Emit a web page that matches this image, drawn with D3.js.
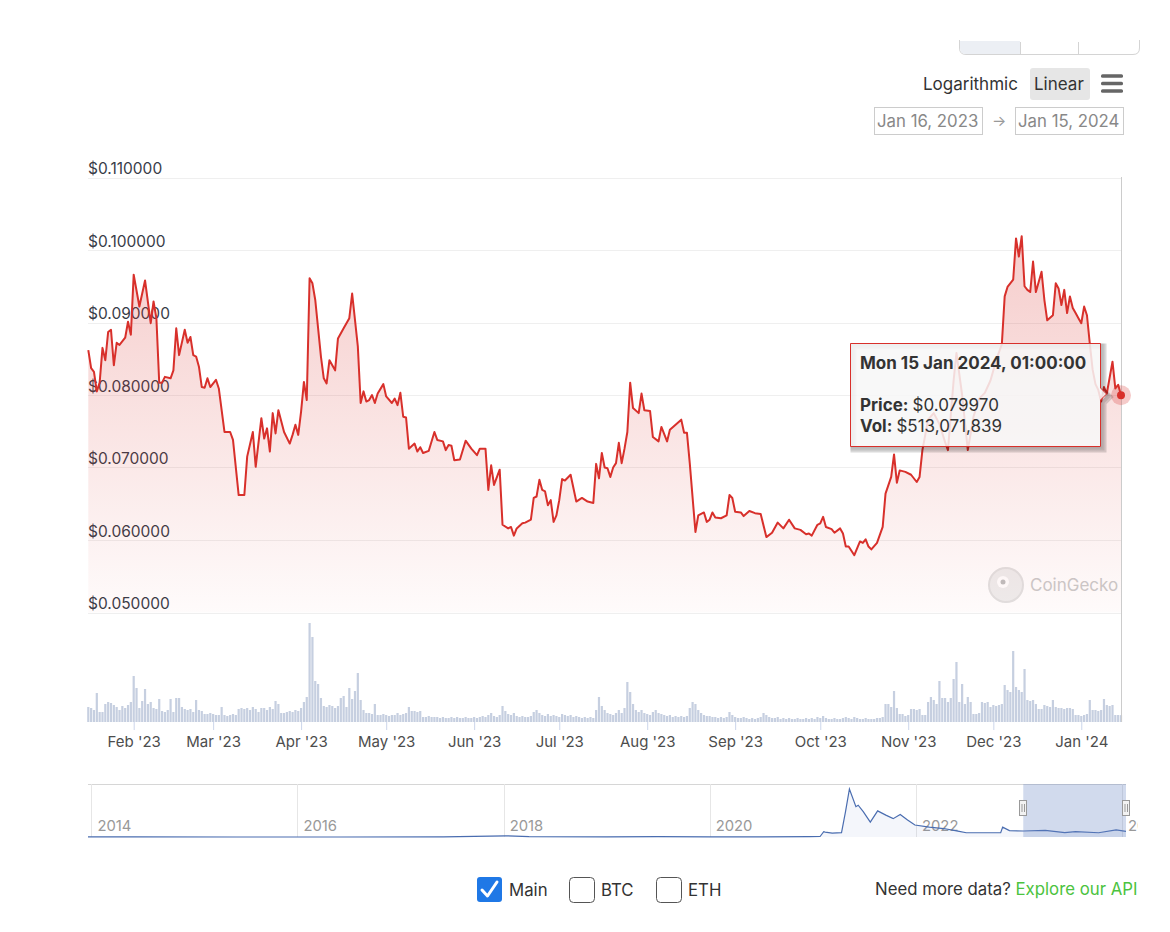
<!DOCTYPE html>
<meta charset="utf-8">
<style>
  body { margin: 0; background: #fff; }
  text { font-family: Inter, "Noto Sans", sans-serif; }
</style>
<svg width="1170" height="932"></svg>
<script src="https://d3js.org/d3.v7.min.js"></script>
<script>
// price points: day counted from 16 Jan 2023, price in USD
var priceDay = [0,1,2,3,4,5,6,7,8,9,10,11,13,14,15,16,18,20,22,23,24,25,26,27,29,30,31,32,34,35,36,37,38,39,40,41,42,43,45,46,48,50,51,53,55,56,58,59,61,62,63,64,65,66,67,69,71,72,73,74,75,76,77,78,79,80,82,83,84,85,87,88,90,92,93,95,96,97,98,99,100,101,102,104,105,107,108,109,110,111,112,113,115,116,117,118,120,122,123,125,126,127,128,129,131,133,135,137,138,140,141,142,143,145,146,148,149,150,151,153,154,156,157,158,159,160,161,162,163,164,165,166,167,168,170,172,174,176,178,179,180,181,182,183,184,185,186,187,188,189,190,191,192,194,195,196,198,199,201,202,204,205,207,209,210,211,212,214,215,217,218,219,220,221,223,225,226,227,228,230,231,233,235,237,239,241,243,245,247,249,251,253,254,255,257,258,259,260,262,263,265,266,267,268,270,272,273,274,275,276,278,280,281,283,284,285,286,288,290,292,293,294,296,298,300,302,303,305,306,308,310,312,314,316,318,320,322,323,324,326,327,328,329,330,331,332,333,334,336,337,338,340,341,342,343,344,345,346,347,348,349,350,351,352,353,354,355,356,357,358,359,361,362,363,364];
var priceValue = [.0862,.0837,.0832,.0805,.0817,.0865,.0848,.0887,.0890,.0841,.0872,.0869,.0879,.0901,.0883,.0966,.0922,.0958,.0899,.0929,.0906,.0817,.0817,.0825,.0823,.0834,.0892,.0855,.0890,.0872,.0880,.0855,.0853,.0839,.0811,.0810,.0823,.0811,.0821,.0809,.0749,.0749,.0738,.0662,.0662,.0715,.0749,.0701,.0768,.0740,.0754,.0722,.0775,.0747,.0779,.0749,.0733,.0745,.0759,.0745,.0777,.0818,.0793,.0961,.0954,.0931,.0853,.0823,.0816,.0848,.0834,.0878,.0892,.0906,.0940,.0867,.0789,.0805,.0791,.0793,.0800,.0789,.0802,.0815,.0798,.0789,.0795,.0786,.0803,.0770,.0769,.0726,.0733,.0722,.0728,.0720,.0723,.0749,.0738,.0736,.0724,.0731,.0730,.0710,.0711,.0737,.0726,.0717,.0726,.0726,.0669,.0703,.0676,.0697,.0621,.0616,.0618,.0606,.0616,.0623,.0624,.0628,.0658,.0660,.0683,.0669,.0667,.0648,.0655,.0625,.0634,.0655,.0684,.0682,.0690,.0653,.0658,.0653,.0651,.0705,.0685,.0720,.0700,.0699,.0687,.0700,.0706,.0734,.0706,.0726,.0749,.0817,.0782,.0775,.0802,.0779,.0778,.0742,.0736,.0756,.0736,.0752,.0759,.0766,.0748,.0748,.0706,.0611,.0634,.0638,.0625,.0628,.0638,.0631,.0630,.0634,.0662,.0658,.0639,.0638,.0633,.0640,.0637,.0636,.0604,.0610,.0624,.0616,.0628,.0616,.0614,.0608,.0609,.0606,.0621,.0623,.0632,.0618,.0615,.0610,.0616,.0609,.0591,.0591,.0579,.0598,.0596,.0601,.0591,.0587,.0596,.0618,.0664,.0687,.0718,.0679,.0696,.0694,.0690,.0680,.0687,.0724,.0766,.0775,.0760,.0735,.0724,.0820,.0858,.0800,.0724,.0770,.0795,.0803,.0820,.0848,.0870,.0936,.0949,.0959,.1016,.0991,.1019,.0950,.0945,.0942,.0984,.0942,.0970,.0931,.0903,.0910,.0954,.0947,.0924,.0945,.0913,.0936,.0920,.0913,.0906,.0899,.0922,.0910,.0871,.0835,.0815,.0807,.0791,.0811,.0802,.0846,.0809,.0814,.07997];

// daily volume in millions USD, one per day from 16 Jan 2023
var volume = [
1125,1050,900,2175,750,750,1350,1500,1425,1275,
1125,900,1200,1050,1275,1500,3450,2550,1050,1575,
2475,1350,1500,1050,975,1725,825,750,900,1725,
750,1800,1800,1125,975,900,975,750,1650,900,
825,600,600,675,600,525,525,1125,525,450,
525,600,525,975,1050,975,1050,900,1125,975,
750,1050,1050,900,1125,975,1575,1350,675,675,
750,825,750,900,825,1050,1500,1875,7425,6375,
3075,2850,1800,1200,1125,1275,1200,1050,1200,1800,
1950,1125,2550,1725,2325,3675,1650,900,675,675,
600,1350,525,525,600,525,450,525,525,675,
525,600,675,1125,825,825,750,825,375,375,
450,375,375,375,300,375,300,300,375,300,
375,300,300,375,300,300,375,300,375,450,
375,525,675,450,375,525,1200,825,600,525,
675,450,375,450,375,375,450,750,900,675,
525,450,600,450,525,450,375,600,525,450,
525,375,450,375,300,375,300,375,300,900,
1875,1200,900,675,600,525,675,900,675,1050,
3000,2250,1350,900,750,900,675,600,525,750,
900,675,600,525,450,525,375,450,375,450,
375,450,1050,1500,1350,900,675,525,450,450,
375,375,300,375,300,375,750,525,375,300,
300,375,300,225,300,225,300,375,675,525,
375,300,300,375,225,300,225,300,225,225,
300,225,225,300,225,300,225,375,300,450,
300,225,225,300,225,225,300,375,300,225,
375,300,225,225,300,225,225,225,300,300,
375,1350,1350,1125,2325,1050,600,600,450,525,
975,975,900,975,525,525,1500,1875,1650,1350,
3075,1800,1800,1500,1800,3225,4500,1500,2850,1350,
1875,1500,600,600,675,1500,1425,1500,1125,1275,
1200,1275,1350,2775,2400,2250,5325,2625,2400,2250,
3975,1650,1575,1650,1350,975,975,1275,1200,1125,
1650,1125,1050,1050,975,1050,1050,975,525,525,
450,525,600,1650,900,900,825,900,1725,1275,
1200,1275,525,525,513];

var yTicks = [0.05, 0.06, 0.07, 0.08, 0.09, 0.10, 0.11];
var xTickDates = ["2023-02-01","2023-03-01","2023-04-01","2023-05-01","2023-06-01","2023-07-01","2023-08-01","2023-09-01","2023-10-01","2023-11-01","2023-12-01","2024-01-01"];
var xTickLabels = ["Feb '23","Mar '23","Apr '23","May '23","Jun '23","Jul '23","Aug '23","Sep '23","Oct '23","Nov '23","Dec '23","Jan '24"];

// full history for the navigator
var navDates = ["2013-12-20","2014-01-20","2014-06-01","2015-06-01","2016-06-01","2017-06-01","2018-01-07","2018-04-01","2019-01-01","2019-07-01","2020-01-01","2020-07-01","2020-12-20","2021-01-26","2021-02-08","2021-02-13","2021-03-10","2021-04-12","2021-04-26","2021-05-10","2021-06-02","2021-06-10","2021-06-28","2021-07-23","2021-08-18","2021-09-16","2021-10-12","2021-11-06","2021-12-02","2021-12-28","2022-02-17","2022-04-09","2022-06-03","2022-06-28","2022-10-28","2022-11-04","2022-11-28","2023-01-16","2023-04-04","2023-06-12","2023-07-20","2023-10-10","2023-12-11","2024-01-15"];
var navPrices = [0.0005,0.0016,0.0004,0.0002,0.0003,0.003,0.017,0.005,0.0024,0.004,0.002,0.003,0.0045,0.007,0.075,0.07,0.055,0.062,0.357,0.68,0.43,0.45,0.36,0.21,0.37,0.31,0.26,0.32,0.24,0.17,0.14,0.12,0.08,0.06,0.06,0.14,0.09,0.085,0.095,0.062,0.075,0.06,0.10,0.08];
var navYears = [2014, 2016, 2018, 2020, 2022, 2024];

var svg = d3.select("svg");
var parse = d3.timeParse("%Y-%m-%d");
var start = new Date(2023, 0, 16);
function dayDate(n) { return d3.timeDay.offset(start, n); }

var red = "#d8302b";
var x = d3.scaleTime().domain([start, dayDate(364)]).range([88.3, 1121]);
var y = d3.scaleLinear().domain([0.05, 0.11]).range([612.5, 177.5]);
var yVol = d3.scaleLinear().domain([0, 7650]).range([722, 620]);

// top controls (range buttons cut off at the top)
var ctrl = svg.append("g");
ctrl.append("path")
  .attr("d", "M959.5,40 V48 Q959.5,54.5 966,54.5 H1133 Q1139.5,54.5 1139.5,48 V40")
  .attr("fill", "#fff").attr("stroke", "#d4d4d4");
ctrl.append("path").attr("d", "M960,41 V48 Q960,54 966,54 H1020 V41 Z").attr("fill", "#eceff4");
ctrl.append("line").attr("x1", 1020.5).attr("x2", 1020.5).attr("y1", 42).attr("y2", 54).attr("stroke", "#d4d4d4");
ctrl.append("line").attr("x1", 1078.5).attr("x2", 1078.5).attr("y1", 42).attr("y2", 54).attr("stroke", "#d4d4d4");

ctrl.append("text").attr("x", 923).attr("y", 90).attr("font-size", 17).attr("fill", "#333").text("Logarithmic");
ctrl.append("rect").attr("x", 1030).attr("y", 68).attr("width", 60).attr("height", 32).attr("rx", 3).attr("fill", "#e6e6e6");
ctrl.append("text").attr("x", 1034).attr("y", 90).attr("font-size", 17).attr("fill", "#333").text("Linear");
[76, 83.5, 91].forEach(function(v) {
  ctrl.append("rect").attr("x", 1101).attr("y", v - 1.7).attr("width", 22).attr("height", 3.4).attr("rx", 1.5).attr("fill", "#666");
});
ctrl.append("rect").attr("x", 874.5).attr("y", 107.5).attr("width", 108).attr("height", 27).attr("fill", "#fff").attr("stroke", "#ccc");
ctrl.append("text").attr("x", 877).attr("y", 127).attr("font-size", 16.8).attr("fill", "#888").text("Jan 16, 2023");
ctrl.append("text").attr("x", 992).attr("y", 126).attr("font-size", 15).attr("fill", "#999").text("→");
ctrl.append("rect").attr("x", 1015.5).attr("y", 107.5).attr("width", 108).attr("height", 27).attr("fill", "#fff").attr("stroke", "#ccc");
ctrl.append("text").attr("x", 1018).attr("y", 127).attr("font-size", 16.8).attr("fill", "#888").text("Jan 15, 2024");

// gradient for area
var grad = svg.append("defs").append("linearGradient")
  .attr("id", "fillGrad").attr("gradientUnits", "userSpaceOnUse")
  .attr("x1", 0).attr("x2", 0).attr("y1", 177).attr("y2", 612);
grad.append("stop").attr("offset", 0).attr("stop-color", red).attr("stop-opacity", 0.28);
grad.append("stop").attr("offset", 1).attr("stop-color", red).attr("stop-opacity", 0.02);

// grid + y labels
svg.append("g").selectAll("line").data(yTicks).join("line")
  .attr("x1", 88).attr("x2", 1122)
  .attr("y1", function(d) { return Math.round(y(d)) + 0.5; })
  .attr("y2", function(d) { return Math.round(y(d)) + 0.5; })
  .attr("stroke", "#efefef");
svg.append("g").selectAll("text").data(yTicks).join("text")
  .attr("x", 88).attr("y", function(d) { return y(d) - 3.5; })
  .attr("font-size", 15.5).attr("fill", "#383c48")
  .text(function(d) { return "$" + d.toFixed(6); });

var pts = priceDay.map(function(d, i) { return { date: dayDate(d), p: priceValue[i] }; });

// volume bars
svg.append("g").selectAll("rect").data(volume).join("rect")
  .attr("x", function(d, i) { return x(dayDate(i)) - 1.1; })
  .attr("width", 2.2)
  .attr("y", function(d) { return yVol(d); })
  .attr("height", function(d) { return yVol(0) - yVol(d); })
  .attr("fill", "#c6cfe0");

// watermark
var wm = svg.append("g").attr("opacity", 0.85);
wm.append("circle").attr("cx", 1006).attr("cy", 585).attr("r", 17).attr("fill", "#ececec").attr("stroke", "#dcdcdc").attr("stroke-width", 2);
wm.append("circle").attr("cx", 1003).attr("cy", 582).attr("r", 6).attr("fill", "#fff");
wm.append("circle").attr("cx", 1003).attr("cy", 582).attr("r", 2.5).attr("fill", "#b5b5b5");
wm.append("text").attr("x", 1030).attr("y", 591).attr("font-size", 17).attr("fill", "#c2c2c2").text("CoinGecko");

// area + line
svg.append("path").datum(pts)
  .attr("fill", "url(#fillGrad)")
  .attr("d", d3.area().x(function(d) { return x(d.date); }).y0(612.5).y1(function(d) { return y(d.p); }));
svg.append("path").datum(pts)
  .attr("fill", "none").attr("stroke", red).attr("stroke-width", 2).attr("stroke-linejoin", "round")
  .attr("d", d3.line().x(function(d) { return x(d.date); }).y(function(d) { return y(d.p); }));

// x axis
var xAxis = d3.axisBottom(x)
  .tickValues(xTickDates.map(parse))
  .tickFormat(function(d, i) { return xTickLabels[i]; })
  .tickSize(8).tickPadding(6);
var gx = svg.append("g").attr("transform", "translate(0,722)").call(xAxis);
gx.select(".domain").remove();
gx.selectAll(".tick line").attr("stroke", "#ccd6eb");
gx.selectAll(".tick text").attr("font-size", 15).attr("fill", "#4d4d4d").attr("font-family", "Inter, sans-serif");

// crosshair + hover marker
var last = pts[pts.length - 1];
svg.append("line").attr("x1", Math.round(x(last.date)) + 0.5).attr("x2", Math.round(x(last.date)) + 0.5)
  .attr("y1", 177).attr("y2", 722).attr("stroke", "#cccccc");
svg.append("circle").attr("cx", x(last.date)).attr("cy", y(last.p)).attr("r", 10).attr("fill", red).attr("fill-opacity", 0.25);
svg.append("circle").attr("cx", x(last.date)).attr("cy", y(last.p)).attr("r", 4).attr("fill", red);

// tooltip
var tip = svg.append("g");
var tipPath = "M850.5,343.5 H1100.5 V388 L1106.5,394 L1100.5,400 V446.5 H850.5 Z";
[3, 2, 1].forEach(function(o) {
  tip.append("path").attr("d", tipPath).attr("transform", "translate(" + o + "," + o + ")")
    .attr("fill", "none").attr("stroke", "#000").attr("stroke-opacity", 0.05 * o).attr("stroke-width", 2 * o);
});
tip.append("path").attr("d", tipPath).attr("fill", "#f7f7f7").attr("fill-opacity", 0.86).attr("stroke", red).attr("stroke-width", 1);
tip.append("text").attr("x", 860).attr("y", 369).attr("font-size", 17).attr("font-weight", "bold").attr("fill", "#333")
  .text("Mon 15 Jan 2024, 01:00:00");
var t1 = tip.append("text").attr("x", 860).attr("y", 411).attr("font-size", 17).attr("fill", "#333");
t1.append("tspan").attr("font-weight", "bold").text("Price: ");
t1.append("tspan").text("$0.079970");
var t2 = tip.append("text").attr("x", 860).attr("y", 432).attr("font-size", 17).attr("fill", "#333");
t2.append("tspan").attr("font-weight", "bold").text("Vol: ");
t2.append("tspan").text("$513,071,839");

// navigator
var navX = d3.scaleTime().domain([new Date(2013, 11, 20), new Date(2024, 0, 15)]).range([88, 1126]);
var navY = d3.scaleLinear().domain([0, 0.68]).range([837, 789]);
var nav = svg.append("g");
nav.append("clipPath").attr("id", "navClip").append("rect").attr("x", 0).attr("y", 770).attr("width", 1138).attr("height", 80);
var navIn = nav.append("g").attr("clip-path", "url(#navClip)");
navIn.append("line").attr("x1", 88).attr("x2", 1126).attr("y1", 784.5).attr("y2", 784.5).attr("stroke", "#d6d6d6");
navIn.selectAll(".vg").data(navYears).join("line").attr("class", "vg")
  .attr("x1", function(d) { return Math.round(navX(new Date(d, 0, 1))) + 0.5; })
  .attr("x2", function(d) { return Math.round(navX(new Date(d, 0, 1))) + 0.5; })
  .attr("y1", 784).attr("y2", 837).attr("stroke", "#e6e6e6");
navIn.selectAll(".yl").data(navYears).join("text").attr("class", "yl")
  .attr("x", function(d) { return navX(new Date(d, 0, 1)) + 6; }).attr("y", 831)
  .attr("font-size", 14.8).attr("fill", "#999").text(function(d) { return d; });
var navPts = navDates.map(function(d, i) { return { date: parse(d), p: navPrices[i] }; });
navIn.append("path").datum(navPts).attr("fill", "#6f8ccb").attr("fill-opacity", 0.08)
  .attr("d", d3.area().x(function(d) { return navX(d.date); }).y0(837).y1(function(d) { return navY(d.p); }));
navIn.append("path").datum(navPts).attr("fill", "none").attr("stroke", "#4a6db0").attr("stroke-width", 1.2)
  .attr("d", d3.line().x(function(d) { return navX(d.date); }).y(function(d) { return navY(d.p); }));
var selL = navX(start), selR = navX(dayDate(364));
navIn.append("rect").attr("x", selL).attr("y", 784).attr("width", selR - selL).attr("height", 53)
  .attr("fill", "#6685c2").attr("fill-opacity", 0.3);
[selL, selR].forEach(function(hx) {
  var h = navIn.append("g").attr("transform", "translate(" + Math.round(hx) + ",800)");
  h.append("rect").attr("x", -3.5).attr("y", 0.5).attr("width", 7).attr("height", 15).attr("fill", "#f2f2f2").attr("stroke", "#999");
  h.append("line").attr("x1", -1).attr("x2", -1).attr("y1", 4).attr("y2", 12).attr("stroke", "#999");
  h.append("line").attr("x1", 1.5).attr("x2", 1.5).attr("y1", 4).attr("y2", 12).attr("stroke", "#999");
});

// bottom controls
var bot = svg.append("g");
bot.append("rect").attr("x", 477).attr("y", 877).attr("width", 25).attr("height", 25).attr("rx", 3).attr("fill", "#1f78e6");
bot.append("path").attr("d", "M482,890 L487.5,896 L497,882").attr("fill", "none").attr("stroke", "#fff").attr("stroke-width", 3).attr("stroke-linecap", "round").attr("stroke-linejoin", "round");
bot.append("text").attr("x", 509).attr("y", 896).attr("font-size", 16.8).attr("fill", "#333").text("Main");
bot.append("rect").attr("x", 569.5).attr("y", 877.5).attr("width", 25).attr("height", 25).attr("rx", 4).attr("fill", "#fff").attr("stroke", "#555");
bot.append("text").attr("x", 601).attr("y", 896).attr("font-size", 16.8).attr("fill", "#333").text("BTC");
bot.append("rect").attr("x", 656.5).attr("y", 877.5).attr("width", 25).attr("height", 25).attr("rx", 4).attr("fill", "#fff").attr("stroke", "#555");
bot.append("text").attr("x", 688).attr("y", 896).attr("font-size", 16.8).attr("fill", "#333").text("ETH");
var api = bot.append("text").attr("x", 875).attr("y", 895).attr("font-size", 16.8).attr("fill", "#333");
api.append("tspan").text("Need more data? ");
api.append("tspan").attr("fill", "#4cc340").text("Explore our API");
</script>
